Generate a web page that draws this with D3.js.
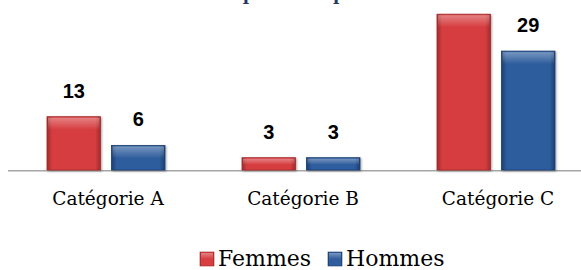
<!DOCTYPE html>
<html lang="fr">
<head>
<meta charset="UTF-8">
<title>Femmes / Hommes par catégorie</title>
<script src="https://cdn.jsdelivr.net/npm/d3@7"></script>
<style>
  body { margin: 0; background: #fff; }
  svg { display: block; }
</style>
</head>
<body>
<svg id="chart" width="581" height="270"></svg>
<script>
const categories = ['Catégorie A', 'Catégorie B', 'Catégorie C']
const series = ['Femmes', 'Hommes']
const femmes = [13, 3, 38]
const hommes = [6, 3, 29]
const chartTitle = 'Répartition par sexe'

const svg = d3.select('#chart')
const width = 581
const baseY = 170

const colors = {
    Femmes: { mid: '#d63e3f', edge: '#a22a2c', light: '#ef6b6b' },
    Hommes: { mid: '#2f5d9d', edge: '#1b3f70', light: '#5a86c4' }
}

const rows = categories.map((c, i) => ({ cat: c, Femmes: femmes[i], Hommes: hommes[i] }))

const x0 = d3.scaleBand().domain(categories).range([8.5, 593.5])
const x1 = d3.scaleBand().domain(series).range([38.5, 156.5]).paddingInner(0.17)
const y = d3.scaleLinear().domain([0, 40]).range([baseY, 6])

// gradients for the bevelled bars
const defs = svg.append('defs')
series.forEach(s => {
    const g = defs.append('linearGradient').attr('id', 'h-' + s)
        .attr('x1', 0).attr('x2', 1).attr('y1', 0).attr('y2', 0)
    g.append('stop').attr('offset', '0%').attr('stop-color', colors[s].edge)
    g.append('stop').attr('offset', '10%').attr('stop-color', colors[s].mid)
    g.append('stop').attr('offset', '90%').attr('stop-color', colors[s].mid)
    g.append('stop').attr('offset', '100%').attr('stop-color', colors[s].edge)
})
const hi = defs.append('linearGradient').attr('id', 'top-hi')
    .attr('x1', 0).attr('x2', 0).attr('y1', 0).attr('y2', 1)
hi.append('stop').attr('offset', '0%').attr('stop-color', '#fff').attr('stop-opacity', 0.35)
hi.append('stop').attr('offset', '100%').attr('stop-color', '#fff').attr('stop-opacity', 0)

const shadow = defs.append('filter').attr('id', 'shadow')
    .attr('x', '-20%').attr('y', '-20%').attr('width', '140%').attr('height', '140%')
shadow.append('feDropShadow').attr('dx', 1).attr('dy', 1).attr('stdDeviation', 1.2)
    .attr('flood-color', '#000').attr('flood-opacity', 0.35)

// title (sits mostly above the visible area, as in the source picture)
svg.append('text')
    .attr('x', 315).attr('y', -0.5)
    .attr('text-anchor', 'middle')
    .attr('font-family', 'DejaVu Serif')
    .attr('font-weight', 'bold')
    .attr('font-size', 17)
    .attr('fill', '#1f3864')
    .text(chartTitle)

// axis line
svg.append('line')
    .attr('x1', 8).attr('x2', width)
    .attr('y1', baseY + 0.75).attr('y2', baseY + 0.75)
    .attr('stroke', '#a6a6a6').attr('stroke-width', 1.5)

const groups = svg.selectAll('g.cat')
    .data(rows)
    .join('g')
    .attr('class', 'cat')
    .attr('transform', d => `translate(${x0(d.cat)},0)`)

const bars = groups.selectAll('g.bar')
    .data(d => series.map(s => ({ s, v: d[s] })))
    .join('g')
    .attr('class', 'bar')

bars.append('rect')
    .attr('x', d => x1(d.s))
    .attr('y', d => y(d.v))
    .attr('width', x1.bandwidth())
    .attr('height', d => baseY - y(d.v))
    .attr('fill', d => `url(#h-${d.s})`)
    .attr('stroke', d => colors[d.s].edge)
    .attr('stroke-width', 0.8)
    .attr('filter', 'url(#shadow)')

bars.append('rect')
    .attr('x', d => x1(d.s) + 1)
    .attr('y', d => y(d.v) + 1)
    .attr('width', x1.bandwidth() - 2)
    .attr('height', d => Math.min(12, (baseY - y(d.v)) / 2))
    .attr('fill', 'url(#top-hi)')

// value labels
bars.append('text')
    .attr('x', d => x1(d.s) + x1.bandwidth() / 2)
    .attr('y', d => y(d.v) - 19)
    .attr('text-anchor', 'middle')
    .attr('font-family', 'Liberation Sans, Arial, sans-serif')
    .attr('font-weight', 'bold')
    .attr('font-size', 20)
    .attr('fill', '#000')
    .text(d => d.v)

// category labels
svg.selectAll('text.cat-label')
    .data(categories)
    .join('text')
    .attr('class', 'cat-label')
    .attr('x', d => x0(d) + x0.bandwidth() / 2 + 2)
    .attr('y', 205)
    .attr('text-anchor', 'middle')
    .attr('font-family', 'DejaVu Serif')
    .attr('font-size', 18.5)
    .attr('fill', '#000')
    .text(d => d)

// legend
const legendX = [200, 328]
const legend = svg.selectAll('g.legend')
    .data(series)
    .join('g')
    .attr('class', 'legend')
    .attr('transform', (d, i) => `translate(${legendX[i]},252)`)

legend.append('rect')
    .attr('width', 14).attr('height', 14)
    .attr('fill', d => `url(#h-${d})`)
    .attr('stroke', d => colors[d].edge)
    .attr('stroke-width', 0.6)
legend.append('rect')
    .attr('x', 1).attr('y', 1)
    .attr('width', 12).attr('height', 6)
    .attr('fill', 'url(#top-hi)')
legend.append('text')
    .attr('x', 18).attr('y', 14)
    .attr('font-family', 'DejaVu Serif')
    .attr('font-size', 22)
    .attr('fill', '#000')
    .text(d => d)
</script>
</body>
</html>
